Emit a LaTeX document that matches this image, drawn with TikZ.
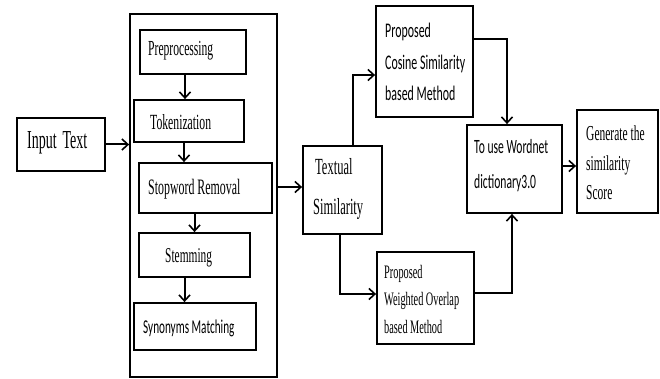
\documentclass[tikz,border=0pt]{standalone}
\usepackage{fontspec}
\usepackage{graphicx}
\setmainfont{Liberation Serif}
\newfontfamily\carl{Carlito}
\usetikzlibrary{arrows.meta}
\newcommand\vs[1]{\scalebox{1}[1.85]{#1}}
\newcommand\vc[1]{\scalebox{1}[1.75]{#1}}
\tikzset{
  box/.style={draw, line width=1.8pt, inner sep=0pt},
  txt/.style={inner sep=0pt, anchor=west, align=left},
  arr/.style={line width=2pt, -{Straight Barb[length=6pt,width=11pt,line width=1.6pt]}},
}
\begin{document}
\begin{tikzpicture}[x=1pt,y=-1pt]
\useasboundingbox (0,0) rectangle (660,379);
% boxes
\node[box, minimum width=88pt, minimum height=53pt] (inp) at (61,144.5) {};
\node[box, minimum width=147pt, minimum height=363pt] (cont) at (203.5,195.5) {};
\node[box, minimum width=106pt, minimum height=44pt] (pre) at (193,52) {};
\node[box, minimum width=110pt, minimum height=42pt] (tok) at (189,121) {};
\node[box, minimum width=133pt, minimum height=50pt] (stop) at (205.5,188) {};
\node[box, minimum width=111pt, minimum height=44pt] (stem) at (194.5,255) {};
\node[box, minimum width=122pt, minimum height=47pt] (syn) at (195,326.5) {};
\node[box, minimum width=79pt, minimum height=88pt] (tex) at (342.5,190) {};
\node[box, minimum width=97pt, minimum height=111pt] (cos) at (424.5,61.5) {};
\node[box, minimum width=97pt, minimum height=92pt] (wei) at (425.5,298) {};
\node[box, minimum width=95pt, minimum height=88pt] (wn) at (514.5,169) {};
\node[box, minimum width=81pt, minimum height=103pt] (gen) at (617.5,161.5) {};
% texts
\node[txt, font=\fontsize{14}{16}\selectfont] (tinp) at (27,143) {\vs{Input\, Text}};
\node[txt, font=\fontsize{11.6}{14}\selectfont] (tpre) at (148,51) {\vs{Preprocessing}};
\node[txt, font=\fontsize{11.7}{14}\selectfont] (ttok) at (150,122) {\vs{Tokenization}};
\node[txt, font=\fontsize{11.9}{14}\selectfont] (tstop) at (148,189) {\vs{Stopword Removal}};
\node[txt, font=\fontsize{11.4}{14}\selectfont] (tstem) at (165,258) {\vs{Stemming}};
\node[txt, font=\carl\fontsize{11.2}{14}\selectfont] (tsyn) at (143,328) {\vc{Synonyms Matching}};
\node[txt, font=\fontsize{12.5}{40}\selectfont] (ttex) at (313,189) {\vs{\hspace{2pt}Textual}\\\vs{Similarity}};
\node[txt, font=\carl\fontsize{11.9}{31.5}\selectfont] (tcos) at (385,62) {\vc{Proposed}\\\vc{Cosine Similarity}\\\vc{based Method}};
\node[txt, font=\fontsize{10.3}{27.5}\selectfont] (twei) at (384,299) {\vs{Proposed}\\\vs{Weighted Overlap}\\\vs{based Method}};
\node[txt, font=\carl\fontsize{11.6}{35}\selectfont] (twn) at (474,166) {\vc{To use Wordnet}\\\vc{dictionary3.0}};
\node[txt, font=\fontsize{11.5}{29.5}\selectfont] (tgen) at (586,163) {\vs{Generate the}\\\vs{similarity}\\\vs{Score}};
% connectors
\draw[arr] (inp.east) -- (inp.east -| cont.west);
\draw[arr] ([xshift=-8pt]pre.south) -- ([xshift=-8pt]pre.south |- tok.north);
\draw[arr] ([xshift=-5pt]tok.south) -- ([xshift=-5pt]tok.south |- stop.north);
\draw[arr] (stop.south -| stem.north) -- (stem.north);
\draw[arr] ([xshift=-10pt]stem.south) -- ([xshift=-10pt]stem.south |- syn.north);
\draw[arr] ([yshift=3pt]tex.west -| cont.east) -- ([yshift=3pt]tex.west);
\draw[arr] ([xshift=10.5pt]tex.north) |- ([yshift=-13.5pt]cos.west);
\draw[arr] ([xshift=-2.5pt]tex.south) |- ([yshift=4pt]wei.west);
\draw[arr] ([yshift=22.5pt]cos.east) -| ([xshift=-7.5pt]wn.north);
\draw[arr] ([yshift=5pt]wei.east) -| ([xshift=-2.5pt]wn.south);
\draw[arr] ([yshift=3pt]wn.east) -- ([yshift=3pt]wn.east -| gen.west);
\end{tikzpicture}
\end{document}
